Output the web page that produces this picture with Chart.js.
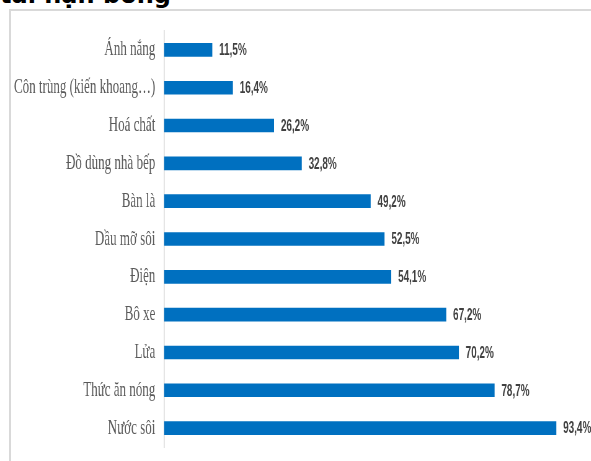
<!DOCTYPE html>
<html>
<head>
<meta charset="utf-8">
<script src="https://cdn.jsdelivr.net/npm/chart.js@4"></script>
<style>
	html, body { margin: 0; padding: 0; background: #fff; }
	body { width: 591px; height: 461px; overflow: hidden; position: relative; }
	.title { position: absolute; left: 0; top: -17px; font: bold 24px "DejaVu Sans", sans-serif;
		line-height: 24px; color: #000; white-space: nowrap; }
	.frame { position: absolute; left: 9px; top: 9px; width: 700px; height: 600px;
		border-left: 2px solid #d9d9d9; border-top: 2px solid #d9d9d9; }
	/* the source picture is squeezed sideways, so the chart is drawn wide and scaled */
	.squeeze { position: absolute; left: 0; top: 0; width: 953px; height: 461px;
		transform: scaleX(0.62); transform-origin: 0 0; }
</style>
</head>
<body>
<div class="title">tai nạn bỏng</div>
<div class="frame"></div>
<div class="squeeze"><canvas id="chart"></canvas></div>
<script>
const categories = [ "Ánh nắng", "Côn trùng (kiến khoang…)", "Hoá chất", "Đồ dùng nhà bếp", "Bàn là",
		"Dầu mỡ sôi", "Điện", "Bô xe", "Lửa", "Thức ăn nóng", "Nước sôi" ];
const values = [ 11.5, 16.4, 26.2, 32.8, 49.2, 52.5, 54.1, 67.2, 70.2, 78.7, 93.4 ];

function FormatValue(v)
{
	return v.toFixed(1).replace(".", ",") + "%";
}

const valueLabels = {
	id: "valueLabels",
	afterDatasetsDraw(chart)
	{
		const ctx = chart.ctx;
		const meta = chart.getDatasetMeta(0);
		ctx.save();
		ctx.fillStyle = "#404040";
		ctx.font = "bold 16px 'Liberation Sans', Arial, sans-serif";
		ctx.textAlign = "left";
		ctx.textBaseline = "middle";
		meta.data.forEach((bar, i) =>
		{
			ctx.fillText(FormatValue(values[i]), bar.x + 11, bar.y + 1);
		});
		ctx.restore();
	}
};

new Chart(document.getElementById("chart"), {
	type: "bar",
	data: {
		labels: categories,
		datasets: [{
			data: values,
			backgroundColor: "#0070C0",
			borderWidth: 0,
			categoryPercentage: 1,
			barPercentage: 0.36,
		}]
	},
	options: {
		indexAxis: "y",
		responsive: true,
		maintainAspectRatio: false,
		animation: false,
		layout: {
			padding: { left: 0, right: 11, top: 31, bottom: 14 }
		},
		plugins: {
			legend: { display: false },
			tooltip: { enabled: false },
		},
		scales: {
			x: {
				display: false,
				min: 0,
				max: 100,
			},
			y: {
				// tick length (not drawn) keeps the labels off the axis without extra end padding
				grid: { display: false, drawTicks: true, tickLength: 14 },
				border: { display: true, color: "#d9d9d9", width: 1.6 },
				ticks: {
					color: "#595959",
					padding: 0,
					font: { family: "'Liberation Serif', 'Times New Roman', serif", size: 21 },
				},
				afterFit(scale)
				{
					scale.width = 264.5;
				}
			}
		}
	},
	plugins: [ valueLabels ],
});
</script>
</body>
</html>
